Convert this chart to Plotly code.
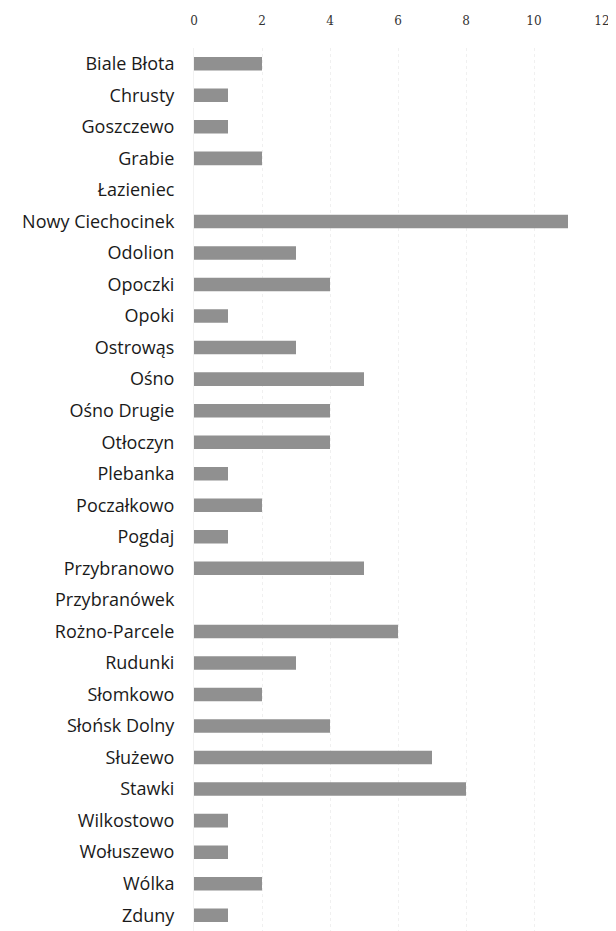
import plotly.graph_objects as go

categories = ["Biale Błota", "Chrusty", "Goszczewo", "Grabie", "Łazieniec",
              "Nowy Ciechocinek", "Odolion", "Opoczki", "Opoki", "Ostrowąs",
              "Ośno", "Ośno Drugie", "Otłoczyn", "Plebanka", "Poczałkowo",
              "Pogdaj", "Przybranowo", "Przybranówek", "Rożno-Parcele", "Rudunki",
              "Słomkowo", "Słońsk Dolny", "Służewo", "Stawki", "Wilkostowo",
              "Wołuszewo", "Wólka", "Zduny"]
values = [2, 1, 1, 2, 0, 11, 3, 4, 1, 3, 5, 4, 4, 1, 2, 1, 5, 0, 6, 3,
          2, 4, 7, 8, 1, 1, 2, 1]
tick_vals = [0, 2, 4, 6, 8, 10, 12]

fig = go.Figure(go.Bar(
    x=values, y=categories, orientation="h",
    marker=dict(color="#909090", line=dict(width=0)),
))

fig.update_layout(
    width=608, height=923,
    margin=dict(l=186, r=14, t=40, b=0),
    paper_bgcolor="white", plot_bgcolor="white",
    bargap=0.57, showlegend=False,
    font=dict(family="Open Sans, sans-serif", color="#1a1a1a"),
)
fig.update_xaxes(
    side="top", range=[0, 12], tickvals=tick_vals,
    showgrid=True, gridcolor="#f0f0f0", griddash="dot", gridwidth=1,
    zeroline=False, showline=False, ticks="",
    tickfont=dict(family="DejaVu Serif, serif", size=12, color="#333333"),
    ticklabelstandoff=20,
)
fig.update_yaxes(
    range=[27.5, -0.5], showgrid=False, zeroline=False,
    showline=True, linecolor="#f2f2f2", ticks="",
    tickfont=dict(family="Open Sans, sans-serif", size=18, color="#1a1a1a"),
    ticklabelstandoff=15,
)

fig.write_html("out.html")
